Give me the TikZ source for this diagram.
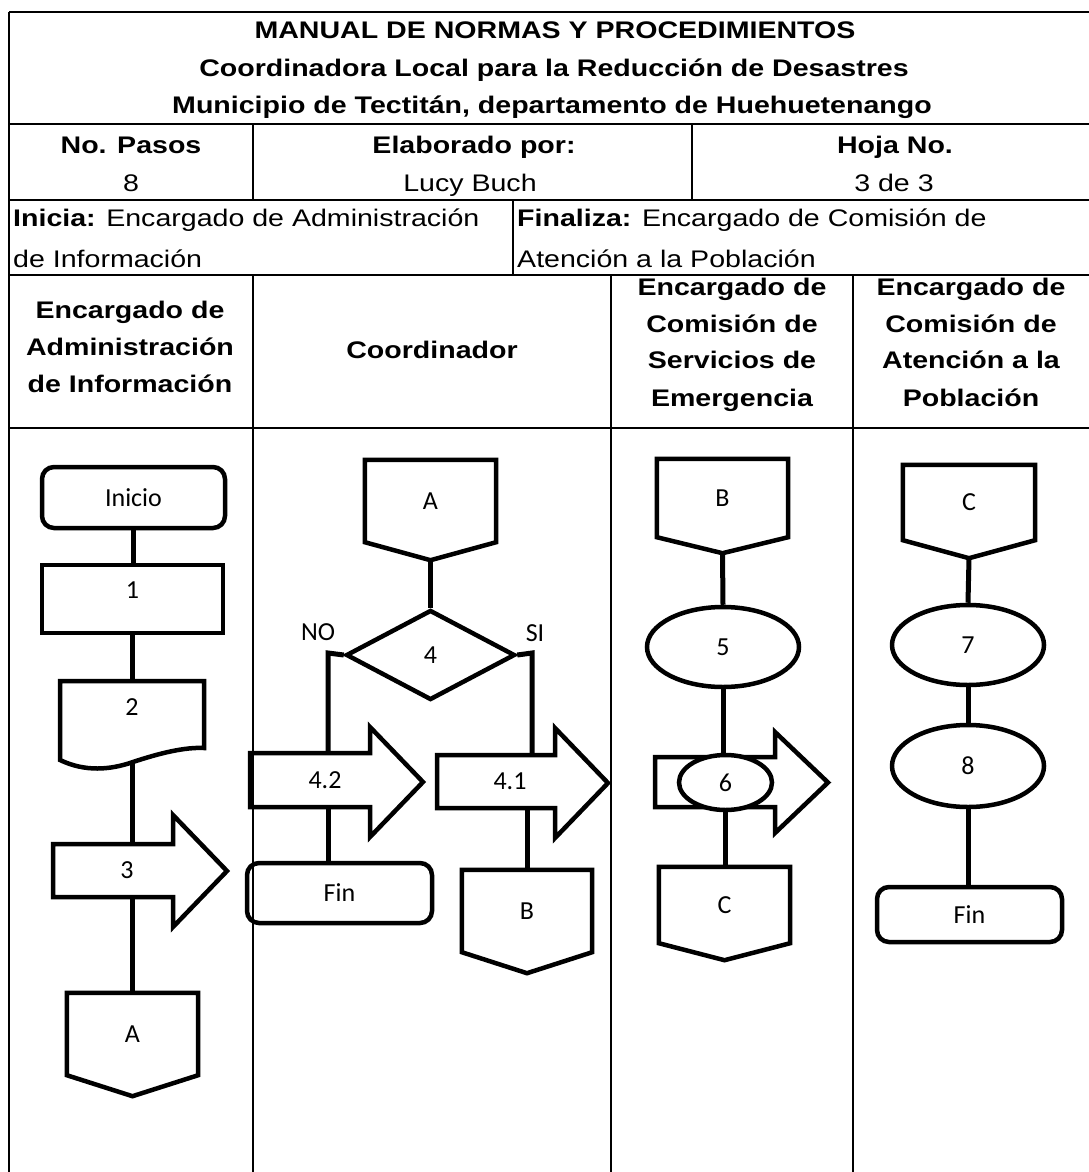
\documentclass[tikz,border=0pt]{standalone}
\usepackage{fontspec}
\setmainfont{Liberation Sans}
\newfontfamily\hdrfont[FakeStretch=1.19]{Liberation Sans}
\newfontfamily\flowfont{Carlito}
\usetikzlibrary{shapes.geometric,calc}
\begin{document}
\begin{tikzpicture}[x=1pt,y=-1pt,
  grid/.style={line width=2.5pt},
  hd/.style={font=\hdrfont\fontsize{24}{28}\selectfont, inner sep=0pt, anchor=base},
  hdb/.style={font=\hdrfont\bfseries\fontsize{24}{28}\selectfont, inner sep=0pt, anchor=base},
  hdl/.style={hd, anchor=base west},
  shp/.style={line width=4.5pt, line join=miter},
  conn/.style={line width=5pt, line join=miter},
  fl/.style={font=\flowfont\fontsize{26}{30}\selectfont, inner sep=0pt},
  tup/.style={text height=17pt, text depth=#1},
  rbox/.style={fl, shp, draw, rounded corners=12pt},
  pbox/.style={fl, shp, draw, rectangle},
  ebox/.style={fl, shp, draw, ellipse, fill=white},
  ghost/.style={fl, rectangle}
]
\useasboundingbox (0,0) rectangle (1089,1172);
\fill[white] (0,0) rectangle (1089,1172);

% ---------- table ----------
\draw[grid] (9,12) -- (1089,12);
\draw[grid] (9,12) -- (9,1172);
\draw[grid] (9,124) -- (1089,124);
\draw[grid] (9,200) -- (1089,200);
\draw[grid] (9,275) -- (1089,275);
\draw[grid] (9,428) -- (1089,428);
\draw[grid] (253,124) -- (253,200);
\draw[grid] (692,124) -- (692,200);
\draw[grid] (513,200) -- (513,275);
\draw[grid] (253,275) -- (253,1172);
\draw[grid] (611,275) -- (611,1172);
\draw[grid] (853,275) -- (853,1172);

% ---------- header texts ----------
\node[hdb] (t1) at (555,39) {MANUAL DE NORMAS Y PROCEDIMIENTOS};
\node[hdb] (t2) at (554,76) {Coordinadora Local para la Reducción de Desastres};
\node[hdb] (t3) at (552,113) {Municipio de Tectitán, departamento de Huehuetenango};

\node[hdb] (np) at (131,153) {No. Pasos};
\node[hd]  (npv) at (131,191) {8};
\node[hdb] (el) at (474,153) {Elaborado por:};
\node[hd]  (elv) at (470,191) {Lucy Buch};
\node[hdb] (hj) at (895,153) {Hoja No.};
\node[hd]  (hjv) at (894,191) {3 de 3};

\node[hdl] (ini1) at (13,226) {\bfseries Inicia:\mdseries{} Encargado de Administración};
\node[hdl] (ini2) at (13,267) {de Información};
\node[hdl] (fin1) at (517,226) {\bfseries Finaliza:\mdseries{} Encargado de Comisión de};
\node[hdl] (fin2) at (517,267) {Atención a la Población};

\node[hdb] (l1a) at (130,318) {Encargado de};
\node[hdb] (l1b) at (130,355) {Administración};
\node[hdb] (l1c) at (130,392) {de Información};
\node[hdb] (l2a) at (432,358) {Coordinador};
\node[hdb] (l3a) at (732,295) {Encargado de};
\node[hdb] (l3b) at (732,332) {Comisión de};
\node[hdb] (l3c) at (732,368) {Servicios de};
\node[hdb] (l3d) at (732,406) {Emergencia};
\node[hdb] (l4a) at (971,295) {Encargado de};
\node[hdb] (l4b) at (971,332) {Comisión de};
\node[hdb] (l4c) at (971,368) {Atención a la};
\node[hdb] (l4d) at (971,406) {Población};

% ---------- lane 1 ----------
\node[rbox, minimum width=183pt, minimum height=61pt] (ini) at (133.5,497.5) {Inicio};
\node[pbox, minimum width=181pt, minimum height=68pt, tup=18pt] (s1) at (132.5,599) {1};
\node[ghost, minimum width=144pt, minimum height=79pt, tup=28pt] (s2) at (132,720.5) {2};
\draw[shp] (60,760) -- (60,681) -- (204,681) -- (204,748)
  .. controls (185,747) and (160,753) .. (133,762)
  .. controls (110,770) and (85,772) .. (60,760) -- cycle;
\draw[shp] (53,844) -- (173,844) -- (173,815) -- (227,871) -- (173,927) -- (173,897) -- (53,897) -- cycle;
\node[ghost, minimum height=53pt] (s3) at (127,870.5) {3};
\node[ghost, minimum width=131pt, minimum height=82pt] (A1) at (132.5,1034) {A};
\draw[shp] (A1.north west) -- (A1.north east) -- (A1.south east) -- ($(A1.south)+(0,21)$) -- (A1.south west) -- cycle;

\draw[conn] (ini.south) -- (ini.south |- s1.north);
\draw[conn] (s1.south) -- (s1.south |- s2.north);
\draw[conn] ($(s2.south)+(0,3)$) -- (s2.south |- s3.north);
\draw[conn] (A1.north |- s3.south) -- (A1.north);

% ---------- lane 2 ----------
\node[ghost, minimum width=131pt, minimum height=82pt] (A2) at (430.5,501) {A};
\draw[shp] (A2.north west) -- (A2.north east) -- (A2.south east) -- ($(A2.south)+(0,18)$) -- (A2.south west) -- cycle;
\node[fl, shp, draw, diamond, minimum width=169pt, minimum height=90pt] (D4) at (430.5,655) {4};
\node[fl] (no) at (318,632) {NO};
\node[fl] (si) at (535,633) {SI};
\coordinate (nc) at (328,653);
\coordinate (sc) at (532,653);

\draw[shp] (250,753) -- (370,753) -- (370,727) -- (423,782) -- (370,837) -- (370,807) -- (250,807) -- cycle;
\node[ghost, minimum height=54pt] (A42) at (325,780) {4.2};
\draw[shp] (437,755) -- (555,755) -- (555,728) -- (608,783) -- (555,838) -- (555,808) -- (437,808) -- cycle;
\node[ghost, minimum height=53pt] (A41) at (510,781.5) {4.1};
\node[rbox, minimum width=185pt, minimum height=60pt] (F2) at (339.5,893) {Fin};
\node[ghost, minimum width=130pt, minimum height=82pt] (B2) at (527,911) {B};
\draw[shp] (B2.north west) -- (B2.north east) -- (B2.south east) -- ($(B2.south)+(0,21)$) -- (B2.south west) -- cycle;

\draw[conn] ($(A2.south)+(0,18)$) -- (D4.north);
\draw[conn] (D4.west) -- (nc) -- (nc |- A42.north);
\draw[conn] (D4.east) -- (sc) -- (sc |- A41.north);
\draw[conn] (nc |- A42.south) -- (nc |- F2.north);
\draw[conn] (B2.north |- A41.south) -- (B2.north);

% ---------- lane 3 ----------
\node[ghost, minimum width=131pt, minimum height=78pt] (B3) at (722.5,498) {B};
\draw[shp] (B3.north west) -- (B3.north east) -- (B3.south east) -- ($(B3.south)+(0,16)$) -- (B3.south west) -- cycle;
\node[ebox, minimum width=152pt, minimum height=80pt] (E5) at (723,647) {5};
\draw[shp] (655,757) -- (775,757) -- (775,732) -- (828,782.5) -- (775,833) -- (775,807) -- (655,807) -- cycle;
\node[ghost, minimum width=120pt, minimum height=50pt] (A6) at (715,782) {};
\node[ebox, minimum width=93pt, minimum height=55pt] (E6) at (725.5,782.5) {6};
\node[ghost, minimum width=131pt, minimum height=76pt] (C3) at (724.5,905) {C};
\draw[shp] (C3.north west) -- (C3.north east) -- (C3.south east) -- ($(C3.south)+(0,17)$) -- (C3.south west) -- cycle;

\draw[conn] ($(B3.south)+(0,16)$) -- (E5.north);
\draw[conn] (E5.south) -- (E5.south |- E6.north);
\draw[conn] (E6.south) -- (E6.south |- C3.north);

% ---------- lane 4 ----------
\node[ghost, minimum width=132pt, minimum height=75pt] (C4) at (969,502.5) {C};
\draw[shp] (C4.north west) -- (C4.north east) -- (C4.south east) -- ($(C4.south)+(0,18)$) -- (C4.south west) -- cycle;
\node[ebox, minimum width=152pt, minimum height=80pt] (E7) at (968,645) {7};
\node[ebox, minimum width=152pt, minimum height=82pt] (E8) at (968,766) {8};
\node[rbox, minimum width=185pt, minimum height=55pt] (F4) at (969.5,914.5) {Fin};

\draw[conn] ($(C4.south)+(0,18)$) -- (E7.north);
\draw[conn] (E7.south) -- (E8.north);
\draw[conn] (E8.south) -- (E8.south |- F4.north);
\end{tikzpicture}
\end{document}
